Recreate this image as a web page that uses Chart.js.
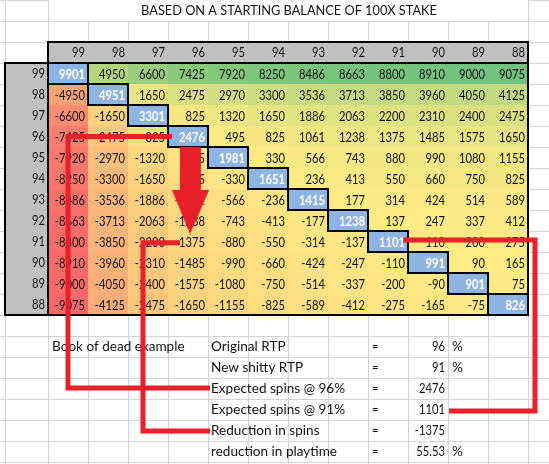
<!DOCTYPE html>
<html>
<head>
<meta charset="utf-8">
<script src="https://cdn.jsdelivr.net/npm/chart.js@4.4.1/dist/chart.umd.min.js"></script>
<style>
  html, body { margin: 0; padding: 0; background: #fff; overflow: hidden; }
</style>
</head>
<body>
<canvas id="sheet" width="549" height="464"></canvas>
<script>
const title = 'BASED ON A STARTING BALANCE OF 100X STAKE';

// column = new RTP, row = original RTP
const rtpCols = [99, 98, 97, 96, 95, 94, 93, 92, 91, 90, 89, 88];
const rtpRows = [99, 98, 97, 96, 95, 94, 93, 92, 91, 90, 89, 88];

const row99 = [9901, 4950, 6600, 7425, 7920, 8250, 8486, 8663, 8800, 8910, 9000, 9075];
const row98 = [-4950, 4951, 1650, 2475, 2970, 3300, 3536, 3713, 3850, 3960, 4050, 4125];
const row97 = [-6600, -1650, 3301, 825, 1320, 1650, 1886, 2063, 2200, 2310, 2400, 2475];
const row96 = [-7425, -2475, -825, 2476, 495, 825, 1061, 1238, 1375, 1485, 1575, 1650];
const row95 = [-7920, -2970, -1320, -495, 1981, 330, 566, 743, 880, 990, 1080, 1155];
const row94 = [-8250, -3300, -1650, -825, -330, 1651, 236, 413, 550, 660, 750, 825];
const row93 = [-8486, -3536, -1886, -1061, -566, -236, 1415, 177, 314, 424, 514, 589];
const row92 = [-8663, -3713, -2063, -1238, -743, -413, -177, 1238, 137, 247, 337, 412];
const row91 = [-8800, -3850, -2200, -1375, -880, -550, -314, -137, 1101, 110, 200, 275];
const row90 = [-8910, -3960, -2310, -1485, -990, -660, -424, -247, -110, 991, 90, 165];
const row89 = [-9000, -4050, -2400, -1575, -1080, -750, -514, -337, -200, -90, 901, 75];
const row88 = [-9075, -4125, -2475, -1650, -1155, -825, -589, -412, -275, -165, -75, 826];

const noteLabel = 'Book of dead example';
const summaryLabels = ['Original RTP', 'New shitty RTP', 'Expected spins @ 96%',
  'Expected spins @ 91%', 'Reduction in spins', 'reduction in playtime'];
const summaryValues = ['96', '91', '2476', '1101', '-1375', '55.53'];
const summaryUnits = ['%', '%', '', '', '', '%'];

const grid = [row99, row98, row97, row96, row95, row94, row93, row92, row91, row90, row89, row88];

// red marker lines, in grid units (x = column index, y = row index)
const linkPaths = [
  [[2.6, 3], [0, 3], [0, 14.98], [3.55, 14.98]],
  [[2.8, 8.06], [1.875, 8.06], [1.875, 17.02], [3.55, 17.02]],
  [[8.38, 7.93], [11.675, 7.93], [11.675, 16.07], [9.525, 16.07]]
];

const cells = [];
grid.forEach((row, r) => row.forEach((v, c) => cells.push({ x: c, y: r, v: v })));

// excel style 3 colour scale: min red, median yellow, max green
const sorted = cells.map(d => d.v).sort((a, b) => a - b);
const vMin = sorted[0];
const vMax = sorted[sorted.length - 1];
const vMid = (sorted[sorted.length / 2 - 1] + sorted[sorted.length / 2]) / 2;
const RED = [248, 105, 107], YEL = [255, 235, 132], GRN = [99, 190, 123];

function mix(a, b, t) {
  return 'rgb(' + a.map((x, i) => Math.round(x + (b[i] - x) * t)).join(',') + ')';
}
function scaleColor(v) {
  if (v <= vMid) return mix(RED, YEL, (v - vMin) / (vMid - vMin));
  return mix(YEL, GRN, (v - vMid) / (vMax - vMid));
}

const FONT = 'Lato, "Open Sans", sans-serif';
const NUM_SQUEEZE = 0.8;   // lato digits are wider than calibri ones
const WORD_SQUEEZE = 0.97;

function text(ctx, s, x, y, align, font, color, squeeze) {
  ctx.save();
  ctx.font = font;
  ctx.fillStyle = color;
  ctx.textAlign = align;
  ctx.textBaseline = 'middle';
  ctx.translate(x, y);
  ctx.scale(squeeze || NUM_SQUEEZE, 1);
  ctx.fillText(s, 0, 0);
  ctx.restore();
}

const sheetPlugin = {
  id: 'sheet',
  beforeDatasetsDraw(chart) {
    const { ctx, scales: { x, y } } = chart;
    const px = v => x.getPixelForValue(v);
    const py = v => y.getPixelForValue(v);
    const left = px(-0.5), right = px(11.5), top = py(-0.5), bottom = py(11.5);
    const labelLeft = px(-1.575);
    const cellFont = '14px ' + FONT;

    ctx.save();
    // spreadsheet gridlines
    ctx.strokeStyle = '#d4d4d4';
    ctx.lineWidth = 1;
    ctx.beginPath();
    for (let k = -3.5; k <= 18.5; k++) {
      ctx.moveTo(0, Math.round(py(k)) + 0.5);
      ctx.lineTo(chart.width, Math.round(py(k)) + 0.5);
    }
    [labelLeft].concat([...Array(14).keys()].map(k => px(k - 0.5))).forEach(gx => {
      const xx = Math.round(gx) + 0.5;
      const merged = gx > left && gx < right;
      ctx.moveTo(xx, merged ? py(-2.5) : 0);
      ctx.lineTo(xx, chart.height);
    });
    ctx.stroke();

    // title (merged cell)
    ctx.fillStyle = '#fff';
    ctx.fillRect(left + 1, 0, right - left - 1, py(-2.5) - 0.5);
    text(ctx, title, (left + right) / 2 + 1, py(-3), 'center', '13.5px ' + FONT, '#111', 0.945);

    // header row and row labels
    ctx.fillStyle = '#c0c0c0';
    ctx.fillRect(left, py(-1.5), right - left, top - py(-1.5));
    ctx.fillRect(labelLeft, top, left - labelLeft, bottom - top);
    rtpCols.forEach((c, i) => text(ctx, String(c), px(i + 0.5) - 3, py(-1), 'right', cellFont, '#111'));
    rtpRows.forEach((r, i) => text(ctx, String(r), left - 3, py(i), 'right', cellFont, '#111'));

    // cells
    const meta = chart.getDatasetMeta(0);
    const data = chart.data.datasets[0].data;
    meta.data.forEach((pt, i) => {
      const d = data[i];
      const x0 = px(d.x - 0.5), x1 = px(d.x + 0.5), y0 = py(d.y - 0.5), y1 = py(d.y + 0.5);
      const diag = d.x === d.y;
      ctx.fillStyle = diag ? '#8db4e2' : scaleColor(d.v);
      ctx.fillRect(x0, y0, x1 - x0, y1 - y0);
      text(ctx, String(d.v), x1 - 3, pt.y + 0.5, 'right',
        (diag ? 'bold ' : '') + cellFont, diag ? '#fff' : '#111');
    });

    // borders
    ctx.strokeStyle = '#000';
    ctx.lineWidth = 2;
    meta.data.forEach((pt, i) => {
      const d = data[i];
      if (d.x !== d.y) return;
      ctx.strokeRect(px(d.x - 0.5), py(d.y - 0.5), px(d.x + 0.5) - px(d.x - 0.5), py(d.y + 0.5) - py(d.y - 0.5));
    });
    ctx.strokeRect(left, py(-1.5), right - left, top - py(-1.5));
    ctx.strokeRect(labelLeft, top, left - labelLeft, bottom - top);
    ctx.strokeRect(left, top, right - left, bottom - top);

    // summary block below the table
    text(ctx, noteLabel, px(-0.5) + 4, py(13), 'left', cellFont, '#111', WORD_SQUEEZE);
    summaryLabels.forEach((s, i) => {
      const yy = py(13 + i);
      text(ctx, s, px(3.5) + 3, yy, 'left', cellFont, '#111', WORD_SQUEEZE);
      text(ctx, '=', px(7.5) + 4, yy, 'left', cellFont, '#111');
      text(ctx, summaryValues[i], px(9.5) - 3, yy, 'right', cellFont, '#111');
      if (summaryUnits[i]) text(ctx, summaryUnits[i], px(9.5) + 4, yy, 'left', cellFont, '#111', WORD_SQUEEZE);
    });
    ctx.restore();
  },
  afterDatasetsDraw(chart) {
    const { ctx, scales: { x, y } } = chart;
    const px = v => x.getPixelForValue(v);
    const py = v => y.getPixelForValue(v);
    ctx.save();
    ctx.strokeStyle = '#e8202a';
    ctx.fillStyle = '#e8202a';
    ctx.lineWidth = 5;
    ctx.lineJoin = 'miter';
    linkPaths.forEach(path => {
      ctx.beginPath();
      path.forEach(([gx, gy], i) => i ? ctx.lineTo(px(gx), py(gy)) : ctx.moveTo(px(gx), py(gy)));
      ctx.stroke();
    });
    // arrow from 96/96 down to 96/91
    ctx.fillRect(px(3.06) - 10.5, py(3.5), 21, py(5.6) - py(3.5));
    ctx.beginPath();
    ctx.moveTo(px(2.6), py(5.55));
    ctx.lineTo(px(3.53), py(5.55));
    ctx.lineTo(px(3.05), py(7.64));
    ctx.closePath();
    ctx.fill();
    ctx.restore();
  }
};

new Chart(document.getElementById('sheet'), {
  type: 'scatter',
  data: {
    datasets: [{
      label: 'spins',
      data: cells,
      pointRadius: 0,
      pointHoverRadius: 0
    }]
  },
  options: {
    responsive: false,
    animation: false,
    events: [],
    layout: { padding: { left: 48, right: 21, top: 63, bottom: 149 } },
    plugins: { legend: { display: false }, tooltip: { enabled: false } },
    scales: {
      x: { type: 'linear', min: -0.5, max: 11.5, display: false },
      y: { type: 'linear', min: -0.5, max: 11.5, reverse: true, display: false }
    }
  },
  plugins: [sheetPlugin]
});
</script>
</body>
</html>
